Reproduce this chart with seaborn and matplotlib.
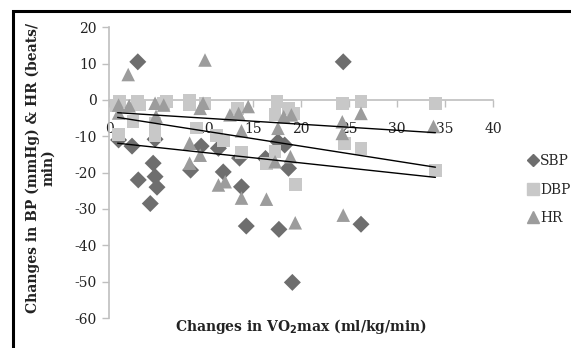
import matplotlib
matplotlib.use("Agg")
import matplotlib.pyplot as plt
import seaborn as sns
import pandas as pd
from matplotlib.lines import Line2D
from matplotlib.patches import Rectangle

# values
sbp_x = [3.0, 24.4, 1.0, 2.4, 4.8, 4.6, 3.05, 4.8, 5.0, 4.3, 8.5, 9.6, 11.4, 11.9, 13.6,
         13.8, 14.3, 16.3, 17.6, 18.3, 18.7, 17.7, 19.1, 26.25]
sbp_y = [10.5, 10.5, -11.0, -12.7, -10.8, -17.4, -22.0, -21.1, -24.0, -28.5, -19.3, -12.7,
         -13.3, -19.8, -16.0, -23.9, -34.7, -16.1, -11.5, -12.4, -18.8, -35.6, -50.2, -34.2]

dbp_x = [1.0, 1.1, 3.0, 3.2, 6.0, 5.7, 2.5, 4.8, 4.8, 0.8, 8.4, 8.4, 9.1, 10.0, 11.2, 11.9,
         13.4, 13.8, 17.5, 18.7, 19.2, 17.3, 17.3, 16.4, 19.4, 24.3, 26.25, 34.0, 24.5,
         26.25, 34.0]
dbp_y = [-9.5, -0.5, -0.5, -1.4, -0.5, -0.9, -6.0, -6.4, -9.8, -1.5, 0.0, -1.4, -7.7, -0.9,
         -9.8, -11.3, -2.3, -14.4, -0.5, -2.3, -3.7, -4.1, -14.2, -17.4, -23.2, -0.9, -0.5,
         -0.9, -11.9, -13.3, -19.5]

hr_x = [2.0, 10.0, 1.0, 2.1, 4.8, 5.7, 9.5, 1.0, 4.9, 9.8, 8.4, 9.5, 8.4, 13.8, 12.6, 14.5,
        13.5, 17.6, 18.2, 19.0, 18.9, 17.3, 11.4, 12.1, 13.8, 16.4, 19.4, 24.4, 26.25, 24.3,
        24.3, 33.8]
hr_y = [7.0, 11.0, -1.4, -1.6, -0.9, -1.4, -2.3, -3.6, -4.5, -0.9, -11.9, -15.2, -17.4, -8.5,
        -4.1, -1.8, -3.7, -7.8, -4.6, -4.1, -15.6, -17.0, -23.4, -22.5, -27.0, -27.3, -33.8,
        -31.7, -3.7, -6.0, -9.2, -7.3]

# linear trend lines (start / end)
trend_x = [0.9, 34.0]
sbp_trend = [-11.9, -21.3]
dbp_trend = [-4.8, -18.5]
hr_trend = [-3.5, -9.0]

series = ["SBP", "DBP", "HR"]
colors = {"SBP": "#6e6e6e", "DBP": "#c8c8c8", "HR": "#9c9c9c"}
markers = {"SBP": "D", "DBP": "s", "HR": "^"}
sizes = {"SBP": 75, "DBP": 85, "HR": 95}

df = pd.concat([
    pd.DataFrame({"vo2": sbp_x, "change": sbp_y, "series": "SBP"}),
    pd.DataFrame({"vo2": dbp_x, "change": dbp_y, "series": "DBP"}),
    pd.DataFrame({"vo2": hr_x, "change": hr_y, "series": "HR"}),
])

sns.set_style("white")
plt.rcParams["font.family"] = ["DejaVu Serif"]
plt.rcParams["axes.unicode_minus"] = False

fig = plt.figure(figsize=(5.71, 3.48), dpi=100)
ax = fig.add_axes([109 / 571, 1 - 318 / 348, 384 / 571, (318 - 27.3) / 348])

for s in series:
    sns.scatterplot(data=df[df["series"] == s], x="vo2", y="change", ax=ax,
                    marker=markers[s], color=colors[s], s=sizes[s],
                    edgecolor="none", linewidth=0, zorder=3)

for ty in [hr_trend, dbp_trend, sbp_trend]:
    ax.plot(trend_x, ty, color="black", lw=1.0, zorder=4)

ax.set_xlim(0, 40)
ax.set_ylim(-60, 20)
ax.set_xticks(range(0, 41, 5))
ax.set_yticks(range(-60, 21, 10))
ax.set_xlabel("")
ax.set_ylabel("")

ax.spines["top"].set_visible(False)
ax.spines["right"].set_visible(False)
ax.spines["bottom"].set_position(("data", 0))
for sp in ["left", "bottom"]:
    ax.spines[sp].set_color("#bfbfbf")
    ax.spines[sp].set_linewidth(1.2)
    ax.spines[sp].set_zorder(1)

ax.tick_params(axis="x", direction="out", length=5, width=1, color="#bfbfbf",
               pad=11, labelsize=10, labelcolor="#222222")
ax.tick_params(axis="y", direction="out", length=5, width=1, color="#bfbfbf",
               pad=4, labelsize=10, labelcolor="#222222")
ax.tick_params(bottom=True, left=True)

fig.text(301 / 571, 1 - 327 / 348, "Changes in VO$_\\mathbf{2}$max (ml/kg/min)",
         ha="center", va="center", fontsize=10, fontweight="bold", color="#222222")
fig.text(40 / 571, 1 - 168 / 348, "Changes in BP (mmHg) & HR (beats/\nmin)",
         rotation=90, ha="center", va="center", multialignment="center",
         fontsize=10, fontweight="bold", color="#222222", linespacing=1.1)

handles = [Line2D([], [], ls="none", marker=markers[s], color=colors[s],
                  markersize={"SBP": 6.5, "DBP": 8, "HR": 8}[s]) for s in series]
fig.legend(handles, series, loc="upper left", bbox_to_anchor=(520 / 571, 1 - 147 / 348),
           frameon=False, fontsize=10, handlelength=0.8, handletextpad=0.15,
           labelspacing=1.05, borderpad=0)

# black frame around the chart (left and top edges visible)
fig.add_artist(Rectangle((13 / 571, -0.2), 1.2, 1.2 - 11 / 348, transform=fig.transFigure,
                         fill=False, edgecolor="black", lw=2.2))

fig.savefig("out.png", dpi=100)
